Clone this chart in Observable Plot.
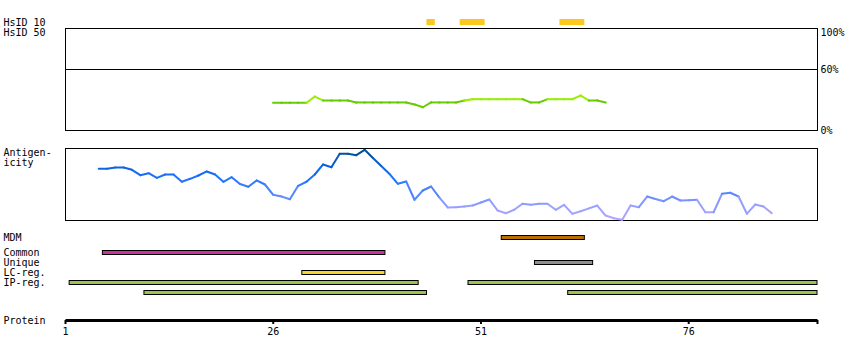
<!DOCTYPE html>
<html>
<head>
<meta charset="utf-8">
<script src="https://cdn.jsdelivr.net/npm/d3@7"></script>
<script src="https://cdn.jsdelivr.net/npm/@observablehq/plot@0.6"></script>
<style>
  body { margin: 0; background: #fff; }
  #chart { position: relative; width: 850px; height: 360px; }
  #chart svg { position: absolute; left: 0; overflow: visible; }
</style>
</head>
<body>
<div id="chart"></div>
<script>
// ---- data ----
const proteinLength = 91;              // residues
const axisTicks = [1, 26, 51, 76];

// HsID 10 hits (residue ranges)
const hsid10Start = [45, 49, 61];
const hsid10End   = [45, 51, 63];

// Identity (%) per residue, starting at residue 26
const identityStart = 26;
const identityValues = [27.2, 27.2, 27.2, 27.2, 27.2, 33.3, 29.4, 29.4, 29.4, 29.4,
  27.5, 27.5, 27.5, 27.5, 27.5, 27.5, 27.5, 25.5, 22.8, 27.5,
  27.5, 27.5, 27.5, 29.4, 30.7, 30.7, 30.7, 30.7, 30.7, 30.7,
  30.7, 27.5, 27.5, 30.7, 30.7, 30.7, 30.7, 34.3, 29.4, 29.4, 27.5];
const identityTicks = [0, 60, 100];

// Antigenicity per residue, starting at residue 5
const antigenStart = 5;
const antigenValues = [0.718, 0.718, 0.736, 0.736, 0.704, 0.629, 0.657, 0.593, 0.639, 0.639,
  0.538, 0.579, 0.625, 0.681, 0.639, 0.538, 0.601, 0.507, 0.468, 0.556,
  0.500, 0.357, 0.333, 0.296, 0.482, 0.538, 0.639, 0.778, 0.740, 0.926,
  0.926, 0.907, 0.982, 0.868, 0.757, 0.646, 0.510, 0.542, 0.288, 0.417,
  0.472, 0.319, 0.181, 0.185, 0.194, 0.208, 0.250, 0.292, 0.139, 0.101,
  0.149, 0.232, 0.218, 0.232, 0.232, 0.149, 0.218, 0.093, 0.129, 0.169,
  0.208, 0.069, 0.032, 0.010, 0.208, 0.185, 0.333, 0.299, 0.268, 0.333,
  0.278, 0.282, 0.288, 0.115, 0.115, 0.371, 0.385, 0.333, 0.093, 0.222,
  0.194, 0.101];

// Feature tracks
const trackNames  = ["MDM", "Common", "Unique", "LC-reg.", "IP-reg."];
const trackRows   = [0, 1.5, 2.5, 3.5, 4.5];
const featureTrack = ["MDM", "Common", "Unique", "LC-reg.", "IP-reg.", "IP-reg.", "IP-reg.", "IP-reg."];
const featureRow   = [0, 1.5, 2.5, 3.5, 4.5, 4.5, 5.5, 5.5];
const featureStart = [54, 6, 58, 30, 2, 50, 11, 62];
const featureEnd   = [63, 39, 64, 39, 43, 91, 44, 91];
const trackColors = {"MDM": "#b86e00", "Common": "#c8349c", "Unique": "#8f8f8f", "LC-reg.": "#f2d82a", "IP-reg.": "#9bc553"};

// ---- layout helpers ----
const W = 850, ML = 65, MR = 33;
const xDomain = [1, proteinLength + 0.5];
const font = {fontFamily: "'DejaVu Sans Mono', monospace", fontSize: "10px", color: "black", background: "transparent"};
const chart = document.getElementById("chart");
function place(svg, top) { svg.style.top = top + "px"; chart.appendChild(svg); }

// ---- HsID strip ----
const hsid = hsid10Start.map((s, i) => ({start: s - 0.5, end: hsid10End[i] + 0.5}));
place(Plot.plot({
  width: W, height: 40, marginLeft: ML, marginRight: MR, marginTop: 22, marginBottom: 8,
  style: font,
  x: {domain: xDomain, axis: null},
  y: {domain: [0, 1], reverse: true, axis: null},
  marks: [
    Plot.rect(hsid, {x1: "start", x2: "end", y1: -0.3, y2: 0.3, fill: "#fcc81e"}),
    Plot.text(["HsID 10", "HsID 50"], {y: (d, i) => i, text: d => d, frameAnchor: "left", dx: -62, textAnchor: "start"})
  ]
}), 0);

// ---- Identity panel ----
const idPts = identityValues.map((v, i) => ({r: identityStart + i, v}));
const idSegs = d3.pairs(idPts).map(([a, b]) => ({x1: a.r, y1: a.v, x2: b.r, y2: b.v,
  c: (a.v + b.v) / 2 >= 30 ? "#99ee00" : "#66cc00"}));
place(Plot.plot({
  width: W, height: 120, marginLeft: ML, marginRight: MR, marginTop: 8, marginBottom: 10,
  style: font,
  color: {type: "identity"},
  x: {domain: xDomain, axis: null},
  y: {domain: [0, 100], axis: null},
  marks: [
    Plot.frame({stroke: "black", shapeRendering: "crispEdges"}),
    Plot.ruleY([60], {stroke: "black", shapeRendering: "crispEdges"}),
    Plot.link(idSegs, {x1: "x1", y1: "y1", x2: "x2", y2: "y2", stroke: "c", strokeWidth: 2, strokeLinecap: "square"}),
    Plot.text(identityTicks.filter(t => t < 100), {y: d => d, text: d => d + "%", frameAnchor: "right", dx: 3, textAnchor: "start"}),
    Plot.text(identityTicks.filter(t => t === 100), {y: d => d, text: d => d + "%", frameAnchor: "right", dx: 3, textAnchor: "start", lineAnchor: "top"})
  ]
}), 20);

// ---- Antigenicity panel ----
const agColor = d3.scaleLinear()
  .domain([0.03, 0.2, 0.35, 0.6, 0.75, 0.95])
  .range(["#b8a4ff", "#98a0ff", "#5c88ff", "#1a72ff", "#0a62e0", "#004c99"])
  .clamp(true);
const agPts = antigenValues.map((v, i) => ({r: antigenStart + i, v}));
const agSegs = d3.pairs(agPts).map(([a, b]) => ({x1: a.r, y1: a.v, x2: b.r, y2: b.v, c: agColor((a.v + b.v) / 2)}));
place(Plot.plot({
  width: W, height: 84, marginLeft: ML, marginRight: MR, marginTop: 8, marginBottom: 4,
  style: font,
  color: {type: "identity"},
  x: {domain: xDomain, axis: null},
  y: {domain: [0, 1], axis: null},
  marks: [
    Plot.frame({stroke: "black", shapeRendering: "crispEdges"}),
    Plot.link(agSegs, {x1: "x1", y1: "y1", x2: "x2", y2: "y2", stroke: "c", strokeWidth: 2, strokeLinecap: "round"}),
    Plot.text(["Antigen-\nicity"], {frameAnchor: "top-left", dx: -62, textAnchor: "start", lineAnchor: "top", lineHeight: 1.05})
  ]
}), 140);

// ---- Feature tracks ----
const features = featureTrack.map((t, i) => ({track: t, row: featureRow[i], start: featureStart[i] - 0.5, end: featureEnd[i] + 0.5}));
const trackLabels = trackNames.map((n, i) => ({name: n, row: trackRows[i]}));
place(Plot.plot({
  width: W, height: 72, marginLeft: ML, marginRight: MR, marginTop: 9.5, marginBottom: 7.5,
  style: font,
  x: {domain: xDomain, axis: null},
  y: {domain: [0, 5.5], reverse: true, axis: null},
  marks: [
    Plot.rect(features, {x1: "start", x2: "end", y1: d => d.row - 0.2, y2: d => d.row + 0.2,
      fill: d => trackColors[d.track], stroke: "black", strokeWidth: 1}),
    Plot.text(trackLabels, {y: "row", text: "name", frameAnchor: "left", dx: -62, textAnchor: "start"})
  ]
}), 228);

// ---- Protein axis ----
place(Plot.plot({
  width: W, height: 45, marginLeft: ML, marginRight: MR, marginTop: 18, marginBottom: 25,
  style: font,
  x: {domain: xDomain},
  y: {domain: [0, 1], axis: null},
  marks: [
    Plot.link([xDomain], {x1: d => d[0], x2: d => d[1], y1: 0, y2: 0, stroke: "black", strokeWidth: 3}),
    Plot.axisX({ticks: [...axisTicks, xDomain[1]], tickFormat: d => axisTicks.includes(d) ? String(d) : "",
      tickSize: 4, tickPadding: 3, strokeWidth: 2, label: null}),
    Plot.text(["Protein"], {y: 0, text: d => d, frameAnchor: "left", dx: -62, textAnchor: "start"})
  ]
}), 300);
</script>
</body>
</html>
